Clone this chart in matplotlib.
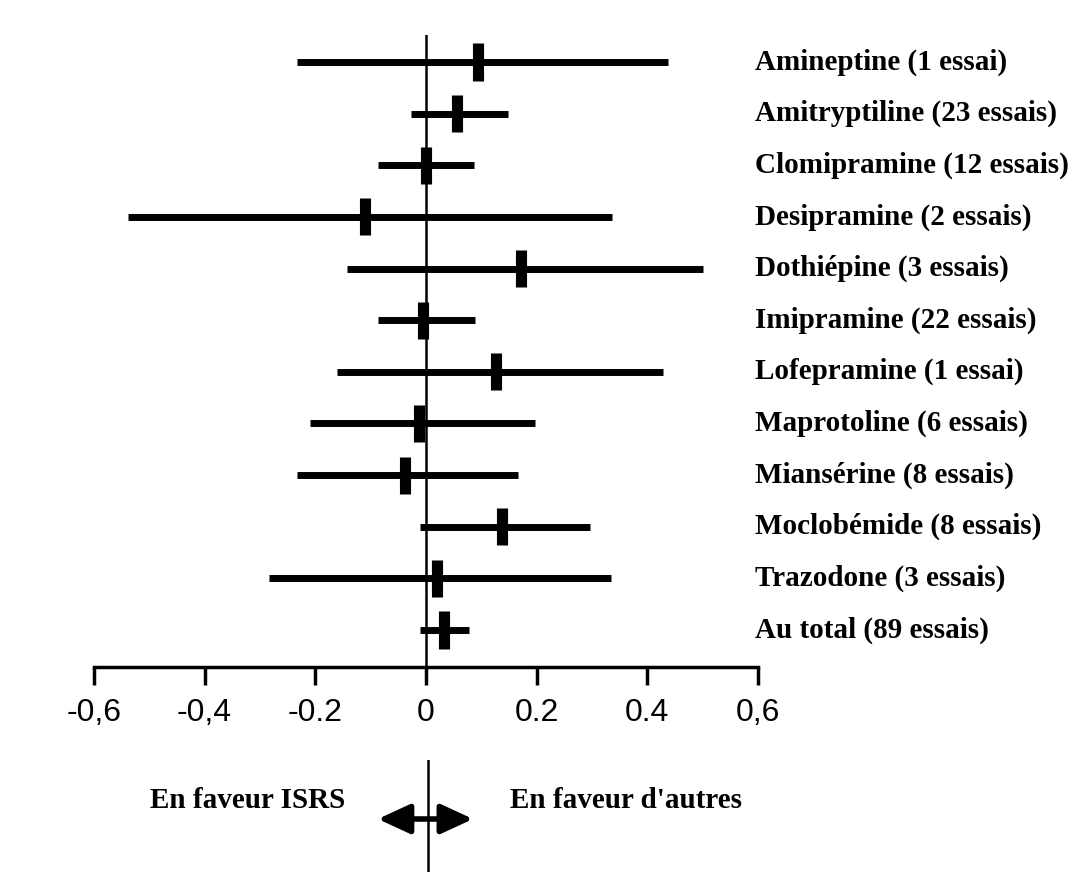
import matplotlib
matplotlib.use("Agg")
import matplotlib.pyplot as plt

labels = ["Amineptine (1 essai)", "Amitryptiline (23 essais)", "Clomipramine (12 essais)",
          "Desipramine (2 essais)", "Dothiépine (3 essais)", "Imipramine (22 essais)",
          "Lofepramine (1 essai)", "Maprotoline (6 essais)", "Miansérine (8 essais)",
          "Moclobémide (8 essais)", "Trazodone (3 essais)", "Au total (89 essais)"]
estimate = [0.094, 0.056, 0.0, -0.111, 0.172, -0.006, 0.127, -0.012, -0.038, 0.137, 0.020, 0.033]
ci_low = [-0.234, -0.028, -0.087, -0.538, -0.143, -0.087, -0.160, -0.210, -0.233, -0.011, -0.284, -0.010]
ci_high = [0.437, 0.148, 0.086, 0.336, 0.500, 0.088, 0.429, 0.197, 0.166, 0.297, 0.335, 0.077]
tick_values = [-0.6, -0.4, -0.2, 0, 0.2, 0.4, 0.6]
tick_labels = ["-0,6", "-0,4", "-0.2", "0", "0.2", "0.4", "0,6"]
left_text = "En faveur ISRS"
right_text = "En faveur d'autres"

W, H = 1077, 872
fig = plt.figure(figsize=(W / 100, H / 100), dpi=100)

x0, x1 = 94, 758
ytop, ybot = 35, 667
ax = fig.add_axes([x0 / W, 1 - ybot / H, (x1 - x0) / W, (ybot - ytop) / H])
n = len(labels)
spacing = (630 - 62) / (n - 1)
ypos = [(n - 1 - i) + 37 / spacing for i in range(n)]
ax.set_xlim(-0.6, 0.6)
ax.set_ylim(0, (ybot - ytop) / spacing)

ax.axvline(0, color="black", lw=1.8, zorder=1)
serif_bold = dict(family="Liberation Serif", weight="bold")
for i in range(n):
    ax.plot([ci_low[i], ci_high[i]], [ypos[i], ypos[i]], color="black", lw=5,
            solid_capstyle="butt", zorder=2)
    ax.plot([estimate[i], estimate[i]], [ypos[i] - 0.36, ypos[i] + 0.36], color="black",
            lw=8, solid_capstyle="butt", zorder=3)
    ax.text(0.6 + (755 - x1) / 553.3, ypos[i], labels[i], ha="left", va="center",
            fontsize=21, clip_on=False, **serif_bold)

for s in ["top", "right", "left"]:
    ax.spines[s].set_visible(False)
ax.spines["bottom"].set_linewidth(2.5)
ax.set_yticks([])
ax.set_xticks(tick_values)
ax.set_xticklabels(tick_labels, family="Liberation Sans", fontsize=23)
ax.tick_params(axis="x", direction="out", length=13, width=2.5, pad=9)

# lower annotation
ax2 = fig.add_axes([x0 / W, 0, (x1 - x0) / W, (H - 760) / H])
ax2.set_xlim(-0.6, 0.6)
ax2.set_ylim(0, H - 760)
ax2.axis("off")
ax2.axvline(0.003, color="black", lw=1.8)
ay = H - 819
ax2.annotate("", xy=(-0.087, ay), xytext=(0.085, ay),
             arrowprops=dict(arrowstyle="<|-|>,head_length=0.65,head_width=0.3",
                             mutation_scale=30, lw=4, color="black",
                             shrinkA=0, shrinkB=0))
ty = H - 800
ax2.text(-0.146, ty, left_text, ha="right", va="center", fontsize=21, **serif_bold)
ax2.text(0.152, ty, right_text, ha="left", va="center", fontsize=21, **serif_bold)

fig.savefig("out.png", dpi=100)
